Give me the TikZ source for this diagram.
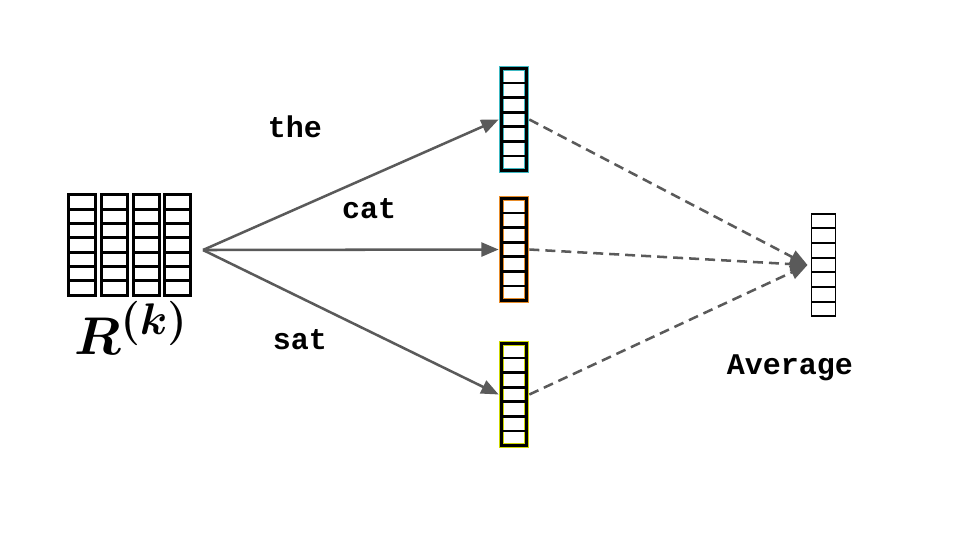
\documentclass[tikz,border=0pt]{standalone}
\usepackage{fontspec}
\usepackage{amsmath,bm}
\setmonofont{Liberation Mono}
\usetikzlibrary{arrows.meta,calc}
\definecolor{cyanv}{RGB}{60,185,195}
\definecolor{orangev}{RGB}{232,140,40}
\definecolor{yellowv}{RGB}{205,215,0}
\definecolor{arrowgray}{RGB}{90,90,90}
\tikzset{
  cells/.style={draw=black, line width=#1, inner sep=0pt, outer sep=0pt,
    path picture={\foreach \i in {1,...,6}{
      \draw[line width=#1] ($(path picture bounding box.north west)!\i/7!(path picture bounding box.south west)$) --
                           ($(path picture bounding box.north east)!\i/7!(path picture bounding box.south east)$);}}},
  vecbox/.style={cells=2pt, minimum width=19pt, minimum height=76.5pt,
    preaction={draw=#1, line width=4pt}},
  avgbox/.style={cells=1.3pt, minimum width=18pt, minimum height=77pt},
  matcol/.style={cells=2.2pt, minimum width=19.8pt, minimum height=75.5pt},
  word/.style={font=\fontsize{22.5}{24}\selectfont\ttfamily\bfseries, inner sep=0pt},
  conn/.style={draw=arrowgray, line width=1.9pt, -{Triangle[length=13pt,width=10.5pt]}},
  dconn/.style={conn, dash pattern=on 7.5pt off 4.5pt},
}
\begin{document}
\begin{tikzpicture}[x=0.75pt,y=-0.75pt]
\useasboundingbox (0,0) rectangle (960,540);
% matrix R
\node[matcol] (R1) at (82,245) {};
\node[matcol] (R2) at (114.5,245) {};
\node[matcol] (R3) at (146.5,245) {};
\node[matcol] (R4) at (177.5,245) {};
\node[inner sep=0pt, scale=1.6] (Rlab) at (131,328) {\Huge$\bm{R^{(k)}}$};
\coordinate (Rout) at (203,250);
% word vectors
\node[vecbox=cyanv] (v1) at (514,119.5) {};
\node[vecbox=orangev] (v2) at (514,249.5) {};
\node[vecbox=yellowv] (v3) at (514,394.5) {};
% average vector
\node[avgbox] (avg) at (823.5,265) {};
% labels
\node[word] (lthe) at (295,127) {the};
\node[word] (lcat) at (369,209) {cat};
\node[word] (lsat) at (300,340) {sat};
\node[word] (lavg) at (790,368) {Average};
% connectors
\draw[conn] (Rout) -- ([xshift=-2pt]v1.west);
\draw[conn] (Rout) -- ([xshift=-2pt]v2.west);
\draw[conn] (Rout) -- ([xshift=-2pt]v3.west);
\draw[dconn] ([xshift=2pt]v1.east) -- ([xshift=-3pt]avg.west);
\draw[dconn] ([xshift=2pt]v2.east) -- ([xshift=-3pt]avg.west);
\draw[dconn] ([xshift=2pt]v3.east) -- ([xshift=-3pt]avg.west);
\end{tikzpicture}
\end{document}
